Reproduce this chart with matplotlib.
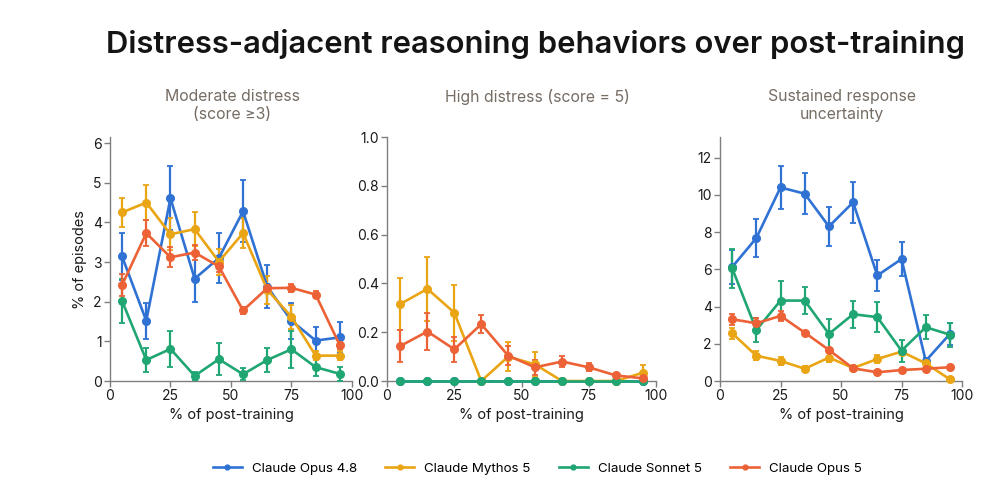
import numpy as np
import matplotlib
matplotlib.use("Agg")
import matplotlib.pyplot as plt
from matplotlib.lines import Line2D

plt.rcParams["font.family"] = ["Inter", "DejaVu Sans"]

x = [5, 15, 25, 35, 45, 55, 65, 75, 85, 95]
models = ["Claude Opus 4.8", "Claude Mythos 5", "Claude Sonnet 5", "Claude Opus 5"]
colors = ["#2f72d4", "#eaa514", "#1fa673", "#ec6236"]

# panel 1: moderate distress (score >= 3)
mod_mean = {
    "Claude Opus 4.8": [3.14, 1.52, 4.61, 2.58, 3.10, 4.28, 2.38, 1.52, 1.02, 1.10],
    "Claude Mythos 5": [4.25, 4.50, 3.70, 3.83, 3.01, 3.73, 2.30, 1.62, 0.64, 0.64],
    "Claude Sonnet 5": [2.02, 0.53, 0.81, 0.13, 0.55, 0.17, 0.53, 0.80, 0.35, 0.18],
    "Claude Opus 5": [2.42, 3.73, 3.12, 3.24, 2.89, 1.78, 2.34, 2.35, 2.18, 0.90],
}
mod_err = {
    "Claude Opus 4.8": [0.60, 0.45, 0.80, 0.60, 0.62, 0.78, 0.55, 0.45, 0.33, 0.40],
    "Claude Mythos 5": [0.37, 0.45, 0.40, 0.42, 0.33, 0.38, 0.35, 0.30, 0.12, 0.12],
    "Claude Sonnet 5": [0.55, 0.30, 0.45, 0.10, 0.40, 0.15, 0.30, 0.47, 0.23, 0.17],
    "Claude Opus 5": [0.27, 0.33, 0.25, 0.18, 0.15, 0.08, 0.10, 0.10, 0.08, 0.10],
}

# panel 2: high distress (score = 5)
high_mean = {
    "Claude Opus 4.8": [0, 0, 0, 0, 0, 0, 0, 0, 0, 0],
    "Claude Mythos 5": [0.316, 0.378, 0.28, 0.0, 0.10, 0.068, 0.0, 0.0, 0.0, 0.034],
    "Claude Sonnet 5": [0, 0, 0, 0, 0, 0, 0, 0, 0, 0],
    "Claude Opus 5": [0.144, 0.203, 0.13, 0.233, 0.104, 0.056, 0.08, 0.056, 0.023, 0.011],
}
high_err = {
    "Claude Opus 4.8": [0, 0, 0, 0, 0, 0, 0, 0, 0, 0],
    "Claude Mythos 5": [0.105, 0.13, 0.115, 0.0, 0.06, 0.05, 0.0, 0.0, 0.0, 0.03],
    "Claude Sonnet 5": [0, 0, 0, 0, 0, 0, 0, 0, 0, 0],
    "Claude Opus 5": [0.065, 0.077, 0.05, 0.037, 0.04, 0.03, 0.022, 0.016, 0.01, 0.008],
}

# panel 3: sustained response uncertainty
unc_mean = {
    "Claude Opus 4.8": [6.12, 7.68, 10.4, 10.06, 8.30, 9.60, 5.67, 6.55, 1.08, 2.53],
    "Claude Mythos 5": [2.57, 1.36, 1.08, 0.66, 1.26, 0.70, 1.18, 1.58, 0.95, 0.09],
    "Claude Sonnet 5": [6.06, 2.74, 4.32, 4.32, 2.53, 3.59, 3.43, 1.63, 2.89, 2.49],
    "Claude Opus 5": [3.32, 3.10, 3.50, 2.60, 1.67, 0.68, 0.47, 0.59, 0.66, 0.74],
}
unc_err = {
    "Claude Opus 4.8": [0.90, 1.00, 1.15, 1.10, 1.03, 1.10, 0.85, 0.93, 0.15, 0.60],
    "Claude Mythos 5": [0.30, 0.25, 0.20, 0.15, 0.22, 0.10, 0.22, 0.20, 0.12, 0.08],
    "Claude Sonnet 5": [1.05, 0.66, 1.05, 0.72, 0.80, 0.73, 0.80, 0.60, 0.65, 0.65],
    "Claude Opus 5": [0.30, 0.30, 0.25, 0.10, 0.10, 0.08, 0.08, 0.08, 0.10, 0.08],
}

panel_titles = ["Moderate distress\n(score \u22653)", "High distress (score = 5)",
                "Sustained response\nuncertainty"]
title_x = [0.2327, 0.5386, 0.8445]

fig = plt.figure(figsize=(9.97, 4.82), dpi=100)
fig.patch.set_facecolor("white")

rects = [
    [0.1103, 0.2095, 0.2427, 0.506],
    [0.3882, 0.2095, 0.2700, 0.506],
    [0.7222, 0.2095, 0.2427, 0.506],
]
panels = [(mod_mean, mod_err), (high_mean, high_err), (unc_mean, unc_err)]
ylims = [(0, 6.15), (0, 1.0), (0, 13.1)]
yticks = [np.arange(0, 7, 1), np.arange(0, 1.01, 0.2), np.arange(0, 13, 2)]
ytickfmt = ["{:.0f}", "{:.1f}", "{:.0f}"]

spine_col = "#7f7f7f"
for i, (rect, (means, errs)) in enumerate(zip(rects, panels)):
    ax = fig.add_axes(rect)
    for m, c in zip(models, colors):
        ax.errorbar(x, means[m], yerr=errs[m], color=c, lw=1.9,
                    marker="o", markersize=5.5, capsize=2.5,
                    elinewidth=1.6, capthick=1.3, clip_on=False,
                    zorder=3)
    ax.set_xlim(0, 100)
    ax.set_ylim(*ylims[i])
    ax.set_xticks([0, 25, 50, 75, 100])
    ax.set_yticks(yticks[i])
    ax.set_yticklabels([ytickfmt[i].format(v) for v in yticks[i]])
    for s in ["top", "right"]:
        ax.spines[s].set_visible(False)
    for s in ["left", "bottom"]:
        ax.spines[s].set_color(spine_col)
        ax.spines[s].set_linewidth(1.0)
    ax.tick_params(axis="both", direction="out", length=4, width=1.0,
                   color=spine_col, labelsize=10, labelcolor="#1a1a1a", pad=2)
    ax.set_xlabel("% of post-training", fontsize=10.5, color="#1a1a1a", labelpad=3)
    if i == 0:
        ax.set_ylabel("% of episodes", fontsize=10.5, color="#1a1a1a", labelpad=4)
    fig.text(title_x[i], 0.816, panel_titles[i], ha="center", va="top",
             fontsize=11.4, color="#766d64", linespacing=1.3)

fig.text(0.537, 0.909, "Distress-adjacent reasoning behaviors over post-training",
         ha="center", va="center", fontsize=22.3, fontweight="semibold", color="#141414")

handles = [Line2D([0], [0], color=c, lw=1.9, marker="o", markersize=3.5) for c in colors]
fig.legend(handles=handles, labels=models, loc="center", ncol=4,
           bbox_to_anchor=(0.539, 0.027), frameon=False, fontsize=9.6,
           handlelength=2.2, columnspacing=2.1, handletextpad=0.75)

fig.savefig("out.png", dpi=100, facecolor="white")
